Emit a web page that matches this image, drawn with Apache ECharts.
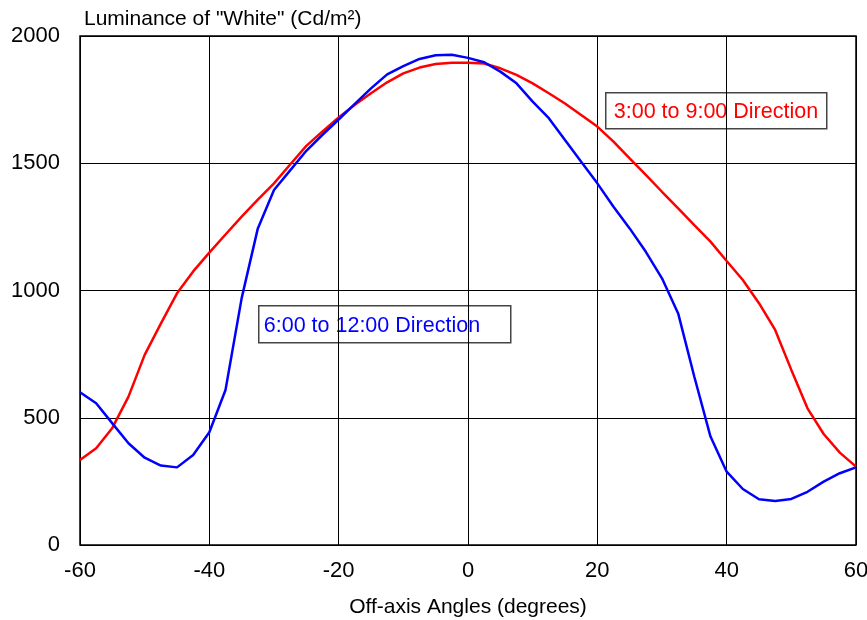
<!DOCTYPE html>
<html>
<head>
<meta charset="utf-8">
<script src="https://cdn.jsdelivr.net/npm/echarts@6/dist/echarts.min.js"></script>
<style>
html,body{margin:0;padding:0;background:#fff;}
#c{width:867px;height:620px;}
</style>
</head>
<body>
<div id="c"></div>
<script>
const angles = [-60,-57.5,-55,-52.5,-50,-47.5,-45,-42.5,-40,-37.5,-35,-32.5,-30,-27.5,-25,-22.5,-20,-17.5,-15,-12.5,-10,-7.5,-5,-2.5,0,2.5,5,7.5,10,12.5,15,17.5,20,22.5,25,27.5,30,32.5,35,37.5,40,42.5,45,47.5,50,52.5,55,57.5,60];
const dir3to9 = [334,380,460,583,747,870,989,1075,1149,1220,1290,1357,1421,1495,1568,1625,1680,1730,1775,1818,1853,1876,1890,1895,1895,1892,1873,1847,1814,1775,1735,1690,1644,1585,1519,1454,1388,1323,1257,1192,1116,1041,950,845,688,537,436,363,308];
const dir6to12 = [600,557,478,400,343,312,305,354,443,609,970,1244,1395,1472,1549,1612,1672,1733,1794,1849,1882,1910,1924,1926,1914,1897,1860,1814,1742,1677,1591,1506,1421,1329,1244,1152,1048,910,661,426,288,220,180,173,181,209,249,282,305];
const seriesNames = ['3:00 to 9:00 Direction','6:00 to 12:00 Direction'];
const yTitle = 'Luminance of "White" (Cd/m²)';
const xTitle = 'Off-axis Angles (degrees)';

const chart = echarts.init(document.getElementById('c'), null, {renderer:'canvas'});
const font = 'Arial, "Liberation Sans", sans-serif';
chart.setOption({
  animation:false,
  backgroundColor:'#fff',
  title:{text:yTitle,left:79,top:4,textStyle:{fontFamily:font,fontSize:21,fontWeight:'normal',color:'#000'}},
  grid:{left:80,right:11,top:36,bottom:75,show:true,borderColor:'#000',borderWidth:1.5,backgroundColor:'transparent',outerBoundsMode:'none',containLabel:false},
  xAxis:{type:'value',min:-60,max:60,interval:20,
    name:xTitle,nameLocation:'middle',nameGap:52,
    nameTextStyle:{fontFamily:font,fontSize:21,color:'#000'},
    axisLine:{show:false},axisTick:{show:false},
    axisLabel:{fontFamily:font,fontSize:22,color:'#000',margin:15},
    splitLine:{show:true,lineStyle:{color:'#000',width:1}}},
  yAxis:{type:'value',min:0,max:2000,interval:500,
    axisLine:{show:false},axisTick:{show:false},
    axisLabel:{fontFamily:font,fontSize:22,color:'#000',margin:20,formatter:v=>String(v)},
    splitLine:{show:true,lineStyle:{color:'#000',width:1}}},
  series:[
    {name:seriesNames[0],type:'line',data:angles.map((a,i)=>[a,dir3to9[i]]),showSymbol:false,
      lineStyle:{color:'#ff0000',width:2.5},itemStyle:{color:'#ff0000'},z:3},
    {name:seriesNames[1],type:'line',data:angles.map((a,i)=>[a,dir6to12[i]]),showSymbol:false,
      lineStyle:{color:'#0000ff',width:2.5},itemStyle:{color:'#0000ff'},z:4}
  ],
  graphic:[
    {type:'group',left:605,top:92,z:100,children:[
      {type:'rect',shape:{x:0,y:0,width:221,height:36},style:{fill:'#fff',stroke:'#444',lineWidth:1.5}},
      {type:'text',x:8,y:19,style:{text:seriesNames[0],fill:'#ff0000',font:'21.5px Arial, "Liberation Sans", sans-serif',verticalAlign:'middle'}}
    ]},
    {type:'group',left:258,top:305,z:100,children:[
      {type:'rect',shape:{x:0,y:0,width:252,height:37},style:{fill:'#fff',stroke:'#444',lineWidth:1.5}},
      {type:'text',x:5,y:20,style:{text:seriesNames[1],fill:'#0000ff',font:'21.5px Arial, "Liberation Sans", sans-serif',verticalAlign:'middle'}}
    ]}
  ]
});
</script>
</body>
</html>
